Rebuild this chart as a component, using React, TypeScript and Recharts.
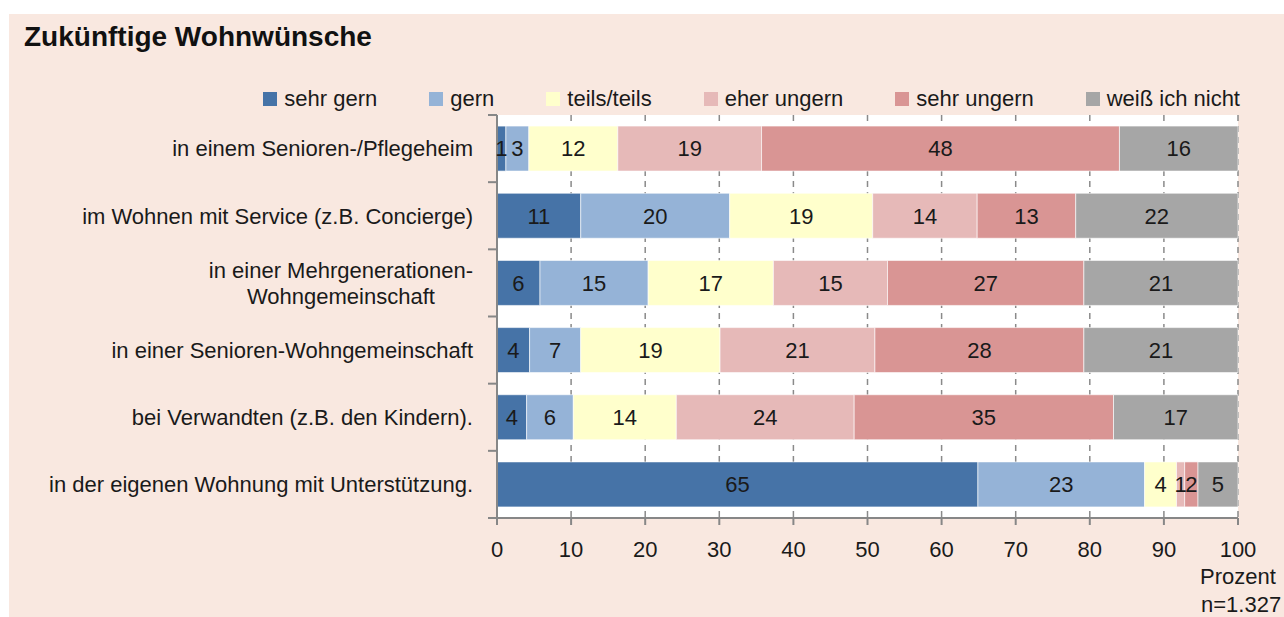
import { BarChart, Bar, XAxis, YAxis, CartesianGrid, LabelList } from 'recharts';

// categories top to bottom, values in percent
const categories = [
  'in einem Senioren-/Pflegeheim',
  'im Wohnen mit Service (z.B. Concierge)',
  'in einer Mehrgenerationen-\nWohngemeinschaft',
  'in einer Senioren-Wohngemeinschaft',
  'bei Verwandten (z.B. den Kindern).',
  'in der eigenen Wohnung mit Unterstützung.',
];
const sehrGern = [1.2, 11.3, 5.8, 4.4, 4.0, 64.9];
const gern = [3.1, 20.1, 14.6, 6.9, 6.3, 22.5];
const teilsTeils = [12.0, 19.3, 16.9, 18.8, 13.9, 4.3];
const eherUngern = [19.4, 14.1, 15.4, 20.9, 24.0, 1.1];
const sehrUngern = [48.3, 13.3, 26.5, 28.2, 35.0, 1.8];
const weissNicht = [16.0, 21.9, 20.8, 20.8, 16.8, 5.4];
const xTicks = [0, 10, 20, 30, 40, 50, 60, 70, 80, 90, 100];

const SERIES = [
  { key: 'sehrGern', name: 'sehr gern', color: '#4673a7', values: sehrGern },
  { key: 'gern', name: 'gern', color: '#95b3d7', values: gern },
  { key: 'teilsTeils', name: 'teils/teils', color: '#ffffcc', values: teilsTeils },
  { key: 'eherUngern', name: 'eher ungern', color: '#e6b9b8', values: eherUngern },
  { key: 'sehrUngern', name: 'sehr ungern', color: '#d99594', values: sehrUngern },
  { key: 'weissNicht', name: 'weiß ich nicht', color: '#a6a6a6', values: weissNicht },
];

const data = categories.map((name, i) => {
  const row: Record<string, string | number> = { name };
  SERIES.forEach(s => { row[s.key] = s.values[i]; });
  return row;
});

const W = 1284;
const H = 617;
const PLOT_LEFT = 497;
const PLOT_RIGHT = 1238;
const PLOT_TOP = 115;
const PLOT_BOTTOM = 518;
const XAXIS_H = 60;
const FONT = "'Liberation Sans', Arial, sans-serif";
const AXIS = '#878787';
const TEXT = '#1a1a1a';

function textWidth(s: string) {
  const ctx = document.createElement('canvas').getContext('2d');
  if (!ctx) return s.length * 11;
  ctx.font = `22px ${FONT}`;
  return ctx.measureText(s).width;
}

function CategoryTick(props: any) {
  const { x, y, payload, index } = props;
  const step = (PLOT_BOTTOM - PLOT_TOP) / categories.length;
  const lines = String(payload.value).split('\n');
  const top = y - step / 2;
  let label;
  if (lines.length === 1) {
    label = (
      <text x={x} y={y} dy="0.355em" textAnchor="end" fill={TEXT} fontSize={22}>
        {lines[0]}
      </text>
    );
  } else {
    const maxW = Math.max(...lines.map(textWidth));
    const cx = x - maxW / 2;
    const lh = 26;
    const start = y - ((lines.length - 1) * lh) / 2;
    label = (
      <text textAnchor="middle" fill={TEXT} fontSize={22}>
        {lines.map((l, i) => (
          <tspan key={i} x={cx} y={start + i * lh} dy="0.355em">{l}</tspan>
        ))}
      </text>
    );
  }
  return (
    <g>
      <line x1={PLOT_LEFT - 9} x2={PLOT_LEFT} y1={top} y2={top} stroke={AXIS} strokeWidth={2} />
      {index === categories.length - 1 && (
        <line x1={PLOT_LEFT - 9} x2={PLOT_LEFT} y1={top + step} y2={top + step} stroke={AXIS} strokeWidth={2} />
      )}
      {label}
    </g>
  );
}

export default function App() {
  return (
    <div style={{ position: 'fixed', left: 0, top: 0, width: W, height: H, background: '#fff', overflow: 'hidden', fontFamily: FONT, color: TEXT }}>
      <div style={{ position: 'absolute', left: 9, top: 14, width: W - 9, height: H - 14, background: '#f9e8e0' }} />

      <div style={{ position: 'absolute', left: 24, top: 23, fontSize: 28, lineHeight: '28px', fontWeight: 'bold', color: '#111' }}>
        Zukünftige Wohnwünsche
      </div>

      <div style={{ position: 'absolute', top: 88, right: W - 1240, display: 'flex', gap: 52, fontSize: 22, lineHeight: '22px' }}>
        {SERIES.map(s => (
          <div key={s.key} style={{ display: 'flex', alignItems: 'center', gap: 7 }}>
            <span style={{ width: 14, height: 14, background: s.color, display: 'inline-block' }} />
            <span>{s.name}</span>
          </div>
        ))}
      </div>

      <div style={{ position: 'absolute', left: 0, top: 0 }}>
        <BarChart
          width={W}
          height={H}
          data={data}
          layout="vertical"
          barCategoryGap="16.5%"
          margin={{ top: PLOT_TOP, right: W - PLOT_RIGHT, bottom: H - PLOT_BOTTOM - XAXIS_H, left: 0 }}
          style={{ fontFamily: FONT }}
        >
          <CartesianGrid horizontal={false} fill="#ffffff" stroke="#8a8a8a" strokeWidth={1.5} strokeDasharray="6 5" />
          <XAxis
            type="number"
            domain={[0, 100]}
            ticks={xTicks}
            height={XAXIS_H}
            interval={0}
            axisLine={{ stroke: AXIS, strokeWidth: 2 }}
            tickLine={{ stroke: AXIS, strokeWidth: 2 }}
            tickSize={7}
            tickMargin={16}
            tick={{ fill: TEXT, fontSize: 22 }}
          />
          <YAxis
            type="category"
            dataKey="name"
            width={PLOT_LEFT}
            axisLine={{ stroke: AXIS, strokeWidth: 2 }}
            tickLine={false}
            tickSize={9}
            tickMargin={15}
            interval={0}
            tick={<CategoryTick />}
          />
          {SERIES.map(s => (
            <Bar
              key={s.key}
              dataKey={s.key}
              name={s.name}
              stackId="a"
              fill={s.color}
              stroke="#ffffff"
              strokeOpacity={0.6}
              strokeWidth={1}
              isAnimationActive={false}
            >
              <LabelList
                dataKey={s.key}
                position="center"
                formatter={(v: any) => Math.round(Number(v))}
                fill={TEXT}
                fontSize={22}
              />
            </Bar>
          ))}
        </BarChart>
      </div>

      <div style={{ position: 'absolute', left: 1188, width: 100, top: 566, textAlign: 'center', fontSize: 22, lineHeight: '22px' }}>
        Prozent
      </div>
      <div style={{ position: 'absolute', left: 1201, top: 594, fontSize: 22, lineHeight: '22px' }}>
        n=1.327
      </div>
    </div>
  );
}
